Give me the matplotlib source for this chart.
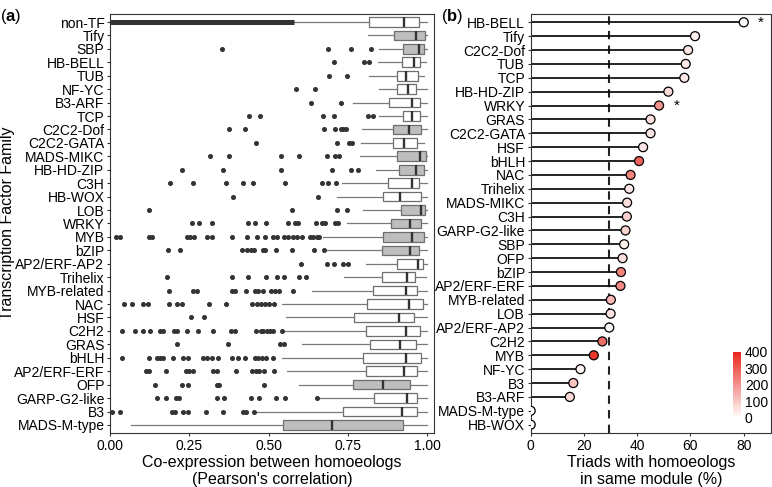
import matplotlib
matplotlib.use("Agg")
import matplotlib.pyplot as plt
from matplotlib.colors import LinearSegmentedColormap, Normalize
from matplotlib.cm import ScalarMappable

plt.rcParams['font.family'] = ['Liberation Sans', 'DejaVu Sans']
plt.rcParams['mathtext.fontset'] = 'custom'
plt.rcParams['mathtext.bf'] = 'Liberation Sans:bold'

# ---- panel (a): co-expression box plots ----
families_a = ["non-TF", "Tify", "SBP", "HB-BELL", "TUB", "NF-YC", "B3-ARF", "TCP",
              "C2C2-Dof", "C2C2-GATA", "MADS-MIKC", "HB-HD-ZIP", "C3H", "HB-WOX",
              "LOB", "WRKY", "MYB", "bZIP", "AP2/ERF-AP2", "Trihelix", "MYB-related",
              "NAC", "HSF", "C2H2", "GRAS", "bHLH", "AP2/ERF-ERF", "OFP",
              "GARP-G2-like", "B3", "MADS-M-type"]
whislo = [0.58, 0.813, 0.850, 0.846, 0.818, 0.850, 0.766, 0.850, 0.794, 0.791, 0.787,
          0.839, 0.731, 0.717, 0.799, 0.747, 0.671, 0.681, 0.808, 0.739, 0.638, 0.544,
          0.555, 0.552, 0.607, 0.544, 0.559, 0.597, 0.660, 0.463, 0.066]
q1 = [0.818, 0.897, 0.923, 0.920, 0.904, 0.904, 0.881, 0.923, 0.892, 0.892, 0.906,
      0.911, 0.876, 0.860, 0.917, 0.885, 0.862, 0.857, 0.904, 0.858, 0.829, 0.810,
      0.769, 0.807, 0.820, 0.797, 0.807, 0.768, 0.833, 0.734, 0.545]
med = [0.928, 0.965, 0.976, 0.959, 0.933, 0.941, 0.952, 0.954, 0.944, 0.928, 0.978,
       0.965, 0.954, 0.915, 0.981, 0.946, 0.952, 0.946, 0.970, 0.936, 0.934, 0.942,
       0.911, 0.933, 0.915, 0.933, 0.928, 0.860, 0.936, 0.920, 0.699]
q3 = [0.976, 0.992, 0.991, 0.978, 0.971, 0.964, 0.978, 0.978, 0.981, 0.967, 0.997,
      0.991, 0.975, 0.982, 0.995, 0.980, 0.991, 0.976, 0.988, 0.963, 0.969, 0.986,
      0.960, 0.978, 0.964, 0.980, 0.969, 0.946, 0.967, 0.969, 0.925]
whishi = [1.0, 1.0, 1.0, 0.997, 0.991, 1.0, 1.0, 1.0, 1.0, 0.990, 1.0,
          1.0, 1.0, 1.0, 1.0, 1.0, 1.0, 1.0, 1.0, 0.997, 1.0, 1.0,
          1.0, 1.0, 1.0, 1.0, 1.0, 1.0, 1.0, 1.0, 1.0]
fliers = [
    [],
    [],
    [0.354, 0.687, 0.761, 0.822],
    [0.707, 0.802, 0.816],
    [0.692, 0.747],
    [0.587, 0.646],
    [0.634, 0.729],
    [0.437, 0.474, 0.673, 0.705, 0.813, 0.831],
    [0.376, 0.426, 0.675, 0.709, 0.728, 0.736, 0.744],
    [0.460, 0.715, 0.754, 0.762],
    [0.315, 0.375, 0.539, 0.597, 0.686, 0.710, 0.723],
    [0.228, 0.355, 0.539, 0.701, 0.759, 0.783],
    [0.190, 0.261, 0.366, 0.421, 0.450, 0.552, 0.669, 0.689, 0.712],
    [0.387, 0.657],
    [0.122, 0.573, 0.717, 0.749],
    [0.260, 0.281, 0.322, 0.436, 0.457, 0.491, 0.560, 0.584, 0.592, 0.650, 0.669,
     0.679, 0.710, 0.720],
    [0.019, 0.032, 0.123, 0.134, 0.242, 0.252, 0.266, 0.305, 0.321, 0.386, 0.431,
     0.463, 0.489, 0.513, 0.526, 0.549, 0.563, 0.576, 0.589, 0.605, 0.631, 0.641,
     0.652, 0.660],
    [0.182, 0.222, 0.417, 0.431, 0.444, 0.454, 0.484, 0.490, 0.524, 0.573, 0.645, 0.676],
    [0.603, 0.683, 0.708, 0.734, 0.752],
    [0.179, 0.384, 0.436, 0.491, 0.526, 0.550, 0.597, 0.618],
    [0.187, 0.261, 0.275, 0.386, 0.394, 0.429, 0.457, 0.468, 0.484, 0.507, 0.520,
     0.534, 0.578],
    [0.044, 0.068, 0.105, 0.121, 0.185, 0.210, 0.226, 0.312, 0.365, 0.449, 0.463,
     0.475, 0.489, 0.503, 0.517],
    [0.254, 0.297],
    [0.039, 0.079, 0.103, 0.126, 0.158, 0.168, 0.202, 0.210, 0.242, 0.279, 0.324,
     0.381, 0.394, 0.461, 0.475, 0.484, 0.494, 0.505, 0.515, 0.541],
    [0.212, 0.371, 0.536, 0.550],
    [0.037, 0.124, 0.147, 0.158, 0.168, 0.200, 0.229, 0.247, 0.294, 0.307, 0.321,
     0.342, 0.384, 0.405, 0.426, 0.457, 0.468, 0.478, 0.491, 0.515],
    [0.113, 0.124, 0.176, 0.239, 0.249, 0.263, 0.326, 0.339, 0.397, 0.447, 0.460,
     0.470, 0.487, 0.517],
    [0.142, 0.226, 0.245, 0.336, 0.344, 0.487],
    [0.147, 0.176, 0.207, 0.219, 0.336, 0.360, 0.445, 0.471, 0.524, 0.552, 0.652],
    [0.005, 0.032, 0.195, 0.205, 0.229, 0.247, 0.302, 0.355, 0.418, 0.429, 0.454],
    [],
]
grey_families = ["Tify", "SBP", "C2C2-Dof", "MADS-MIKC", "HB-HD-ZIP", "LOB", "WRKY",
                 "MYB", "bZIP", "OFP", "MADS-M-type"]
# non-TF outliers are so dense they merge into a solid bar
nontf_dense = [0.0, 0.58]

# ---- panel (b): triads in same module ----
families_b = ["HB-BELL", "Tify", "C2C2-Dof", "TUB", "TCP", "HB-HD-ZIP", "WRKY", "GRAS",
              "C2C2-GATA", "HSF", "bHLH", "NAC", "Trihelix", "MADS-MIKC", "C3H",
              "GARP-G2-like", "SBP", "OFP", "bZIP", "AP2/ERF-ERF", "MYB-related", "LOB",
              "AP2/ERF-AP2", "C2H2", "MYB", "NF-YC", "B3", "B3-ARF", "MADS-M-type",
              "HB-WOX"]
pct_same = [80.0, 61.7, 59.1, 58.2, 57.7, 51.7, 48.2, 45.0, 45.0, 42.2, 40.7, 37.5,
            37.0, 36.2, 36.1, 35.6, 35.1, 34.5, 33.9, 33.7, 30.1, 30.0, 29.5, 26.9,
            23.7, 18.7, 16.0, 14.7, 0.0, 0.0]
n_triads = [5, 30, 45, 40, 40, 70, 200, 60, 50, 45, 290, 230, 45, 60, 90, 80, 30, 60,
            230, 220, 130, 50, 15, 270, 370, 20, 110, 70, 5, 5]
starred = ["HB-BELL", "WRKY"]
overall_pct = 29.4

fig = plt.figure(figsize=(7.72, 4.87), dpi=100)
ax1 = fig.add_axes([0.1425, 0.1109, 0.4197, 0.8604])
ax2 = fig.add_axes([0.6874, 0.1109, 0.3119, 0.8604])

# box plots from summary stats
stats = []
for i, fam in enumerate(families_a):
    stats.append(dict(label=fam, whislo=whislo[i], q1=q1[i], med=med[i], q3=q3[i],
                      whishi=whishi[i], fliers=fliers[i]))
positions = list(range(len(families_a)))
bp = ax1.bxp(stats, positions=positions, vert=False, widths=0.72, patch_artist=True,
             showcaps=False,
             boxprops=dict(edgecolor='#6e6e6e', linewidth=0.9),
             whiskerprops=dict(color='#7a7a7a', linewidth=0.9),
             medianprops=dict(color='#333333', linewidth=1.7),
             flierprops=dict(marker='o', markersize=2.6, markerfacecolor='#333333',
                             markeredgecolor='#333333', linestyle='none'))
for fam, box in zip(families_a, bp['boxes']):
    box.set_facecolor('#bebebe' if fam in grey_families else 'white')
ax1.hlines(0, nontf_dense[0], nontf_dense[1], color='#333333', linewidth=3.6, zorder=3)

ax1.set_xlim(0, 1.022)
ax1.set_ylim(30.6, -0.6)
ax1.set_yticks(positions)
ax1.set_yticklabels(families_a)
ax1.set_xticks([0, 0.25, 0.5, 0.75, 1.0])
ax1.set_xticklabels(["0.00", "0.25", "0.50", "0.75", "1.00"])
ax1.set_xlabel("Co-expression between homoeologs\n(Pearson's correlation)", fontsize=11.5,
               linespacing=1.1, labelpad=2)
ax1.set_ylabel("Transcription Factor Family", fontsize=11.5)
ax1.yaxis.set_label_coords(-0.292, 0.5)

# lollipop plot
cmap = LinearSegmentedColormap.from_list("wr", ["#ffffff", "#e8261b"])
norm = Normalize(0, 400)
ypos = list(range(len(families_b)))
ax2.hlines(ypos, 0, pct_same, color='black', linewidth=1.2, zorder=2)
ax2.scatter(pct_same, ypos, c=n_triads, cmap=cmap, norm=norm, s=42,
            edgecolors='black', linewidths=0.9, zorder=3)
ax2.axvline(overall_pct, color='#222222', linestyle=(0, (4, 3)), linewidth=1.5, zorder=1)
for fam in starred:
    i = families_b.index(fam)
    ax2.text(pct_same[i] + 6.5, i, "*", ha='center', va='center', fontsize=11)
ax2.set_xlim(0, 90.4)
ax2.set_ylim(29.6, -0.6)
ax2.set_yticks(ypos)
ax2.set_yticklabels(families_b)
ax2.set_xticks([0, 20, 40, 60, 80])
ax2.set_xlabel("Triads with homoeologs\nin same module (%)", fontsize=11.5,
               linespacing=1.1, labelpad=2)

for ax in (ax1, ax2):
    ax.tick_params(axis='both', labelsize=10, length=2.5, width=0.8, color='#333333',
                   pad=1.5, labelcolor='black')
    for sp in ax.spines.values():
        sp.set_color('#333333')
        sp.set_linewidth(0.8)

# colour bar
cax = fig.add_axes([0.949, 0.1417, 0.0104, 0.136])
cb = fig.colorbar(ScalarMappable(norm=norm, cmap=cmap), cax=cax)
cb.set_ticks([0, 100, 200, 300, 400])
cb.outline.set_visible(False)
cax.tick_params(length=0, labelsize=10, pad=3)

fig.text(0.0, 0.985, r"($\mathbf{a}$)", fontsize=12, va='top', ha='left')
fig.text(0.571, 0.985, r"($\mathbf{b}$)", fontsize=12, va='top', ha='left')

fig.savefig("out.png", dpi=100)
